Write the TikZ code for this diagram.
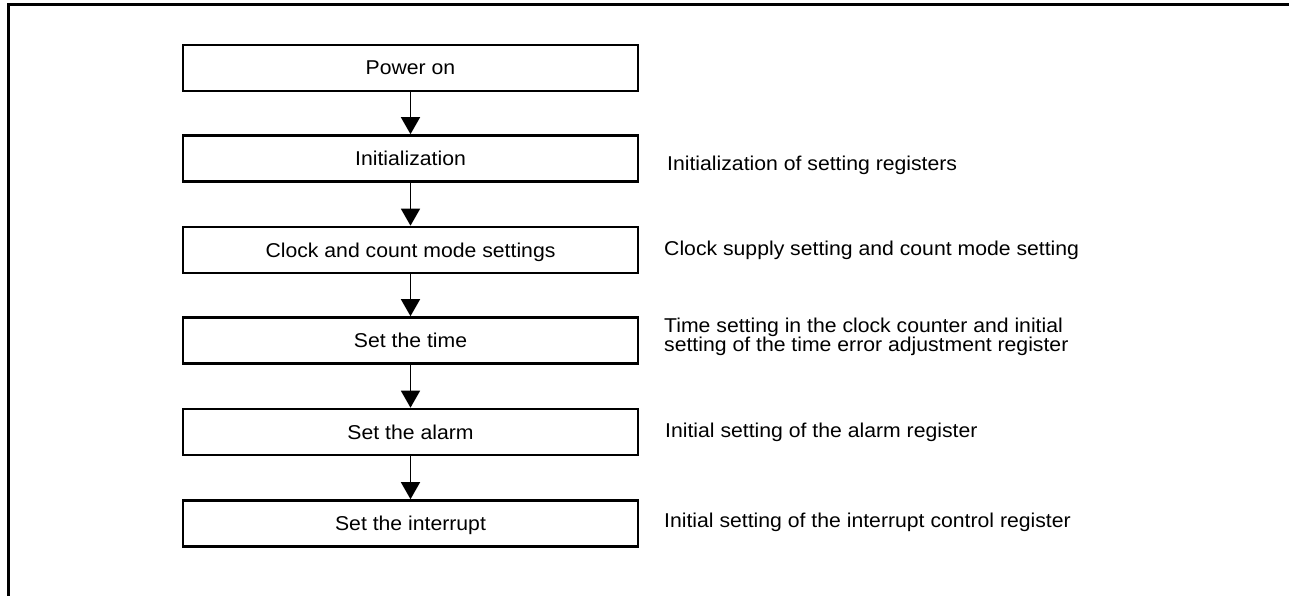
\documentclass[tikz,border=0pt]{standalone}
\usepackage{fontspec}
\setmainfont{Liberation Sans}[FakeStretch=1.06]
\usetikzlibrary{arrows.meta}
\begin{document}
\begin{tikzpicture}[x=1pt,y=-1pt,
  stepbox/.style={draw,line width=2.6pt,minimum width=455pt,minimum height=46pt,inner sep=0pt,
    font=\fontsize{20}{19.5}\selectfont,text depth=0pt},
  note/.style={anchor=west,inner sep=0pt,align=left,font=\fontsize{20}{19.5}\selectfont},
  flow/.style={line width=1.5pt,-{Triangle[width=19pt,length=17pt]}}]
\useasboundingbox (0,0) rectangle (1289,596);
\draw[line width=3pt] (8.5,597) -- (8.5,4.5) -- (1290,4.5);
\node[stepbox] (p) at (410.5,68) {Power on};
\node[stepbox] (i) at (410.5,158.5) {Initialization};
\node[stepbox] (c) at (410.5,250) {Clock and count mode settings};
\node[stepbox] (t) at (410.5,340.5) {Set the time};
\node[stepbox] (a) at (410.5,432) {Set the alarm};
\node[stepbox] (n) at (410.5,523.5) {Set the interrupt};
\draw[flow] (p) -- (i);
\draw[flow] (i) -- (c);
\draw[flow] (c) -- (t);
\draw[flow] (t) -- (a);
\draw[flow] (a) -- (n);
\node[note] (ni) at (667,165) {Initialization of setting registers};
\node[note] (nc) at (664,250) {Clock supply setting and count mode setting};
\node[note] (nt) at (664,337) {Time setting in the clock counter and initial\\setting of the time error adjustment register};
\node[note] (na) at (665,432) {Initial setting of the alarm register};
\node[note] (nn) at (664,522) {Initial setting of the interrupt control register};
\end{tikzpicture}
\end{document}
